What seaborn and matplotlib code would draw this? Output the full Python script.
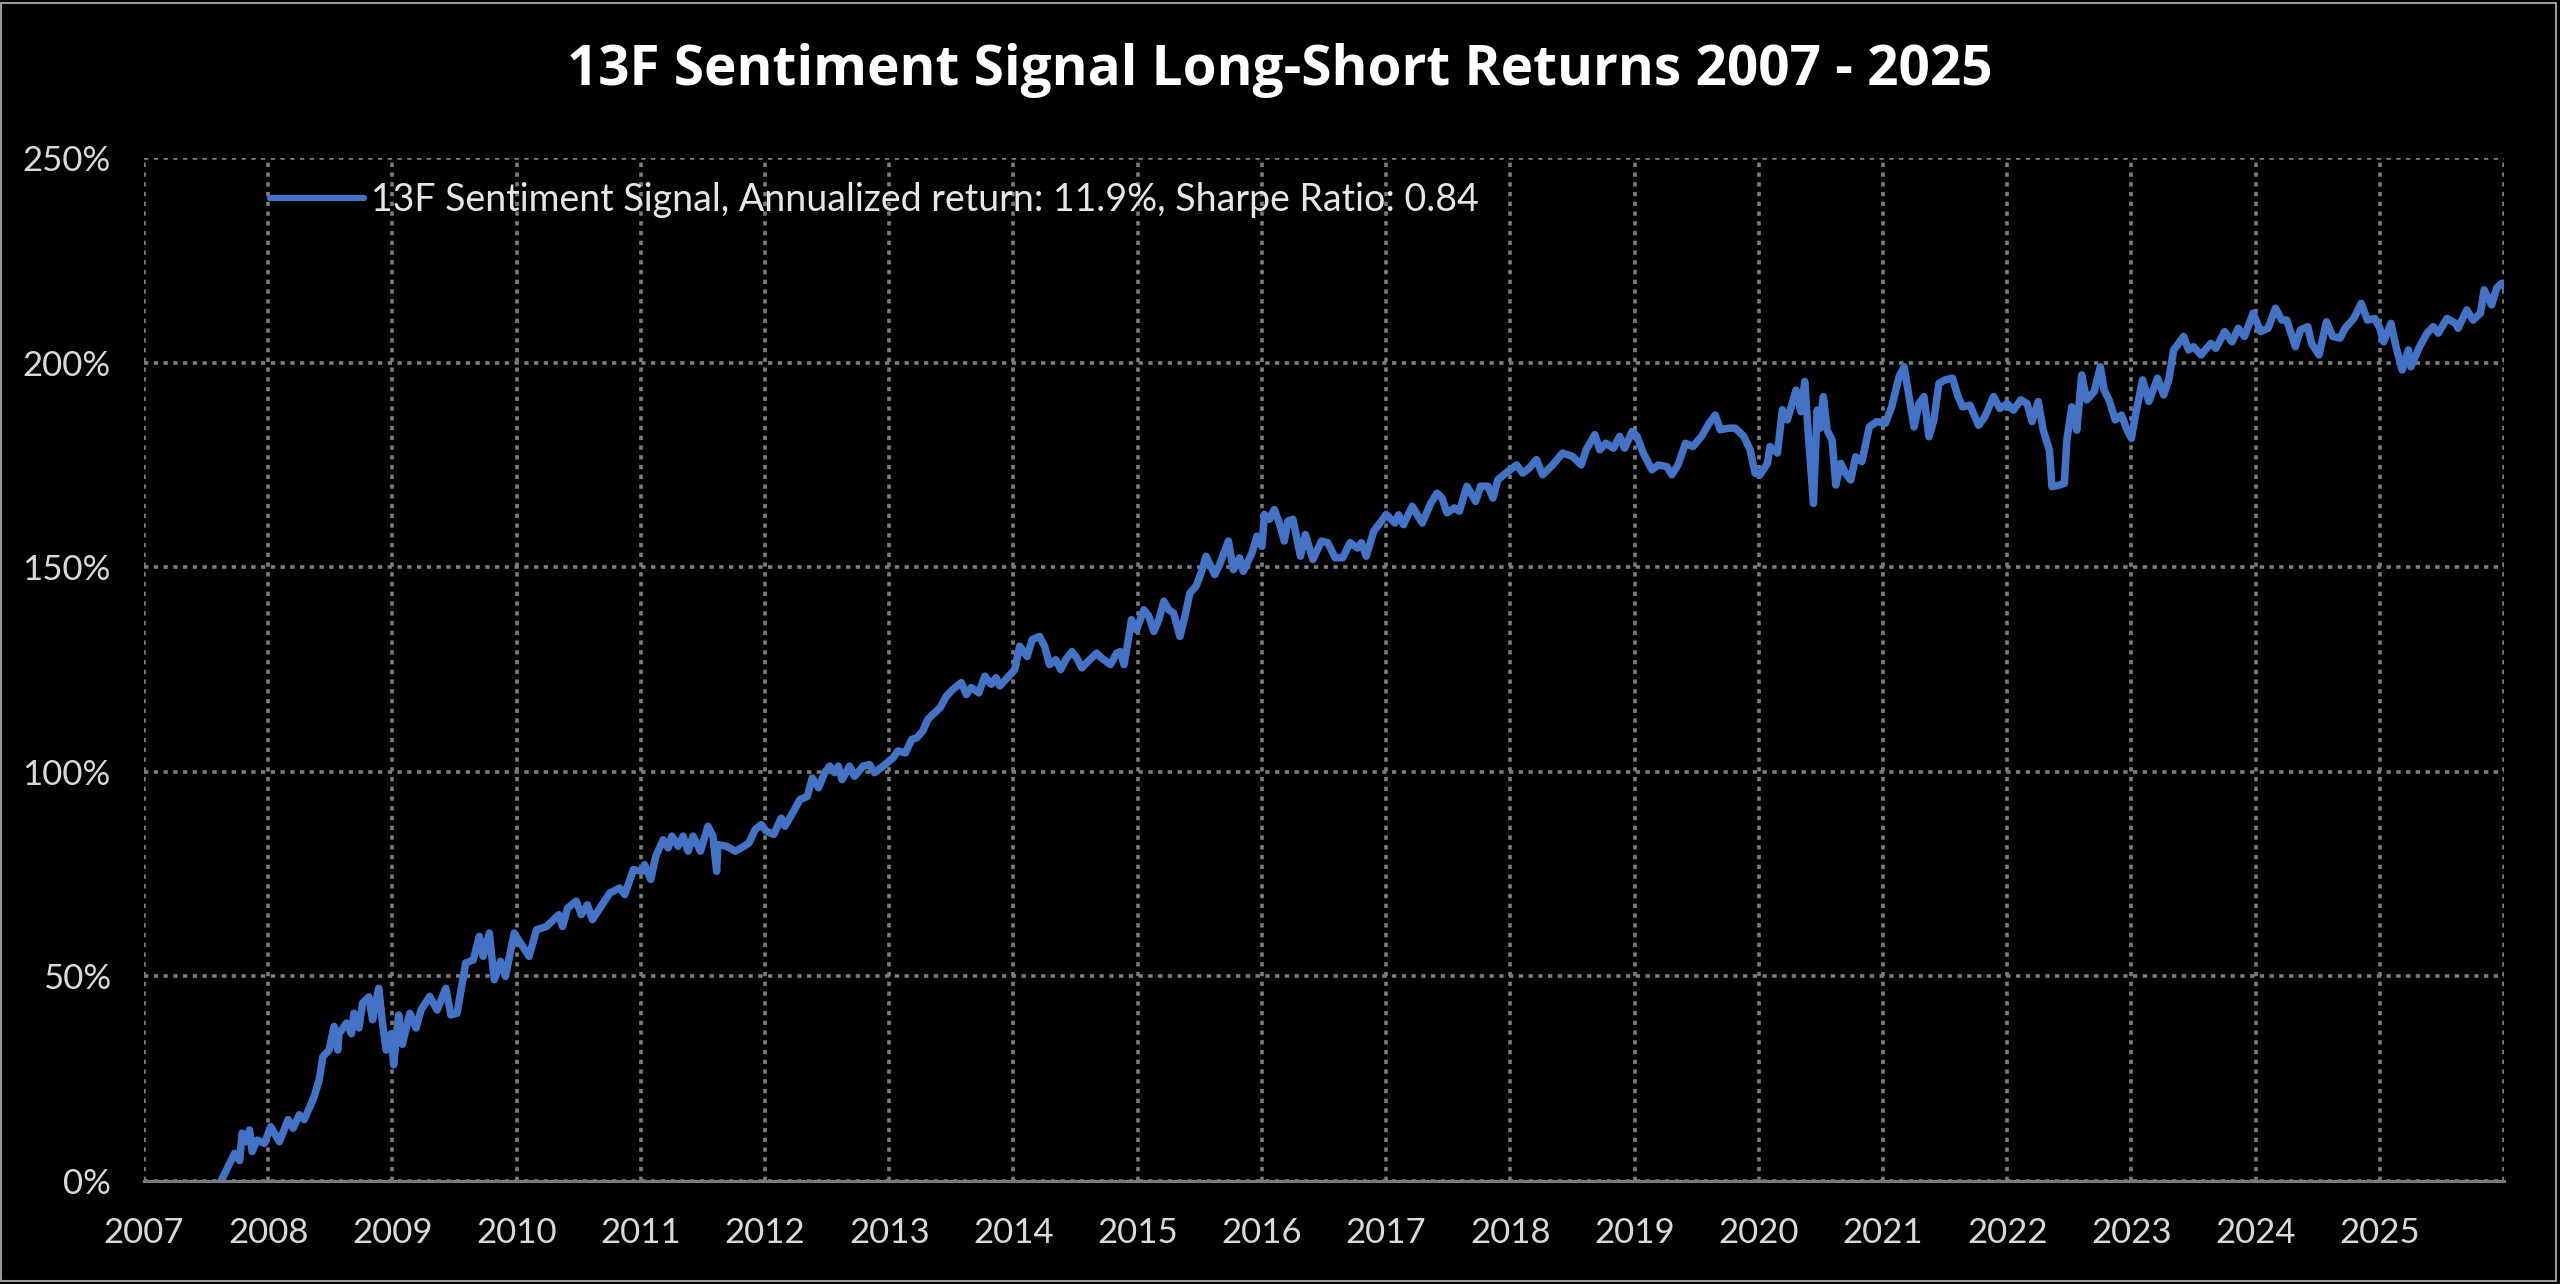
import matplotlib
matplotlib.use("Agg")
import matplotlib.pyplot as plt
from matplotlib.patches import Rectangle
from matplotlib.ticker import PercentFormatter
import pandas as pd
import seaborn as sns

# cumulative long-short return (%), decimal years
years = [
    2007.62, 2007.69, 2007.73, 2007.77, 2007.79, 2007.82, 2007.85, 2007.87, 2007.91, 2007.97,
    2008.02, 2008.09, 2008.16, 2008.20, 2008.25, 2008.29, 2008.33, 2008.37, 2008.41, 2008.44,
    2008.49, 2008.53, 2008.56, 2008.57, 2008.63, 2008.67, 2008.69, 2008.73, 2008.76, 2008.81,
    2008.84, 2008.87, 2008.89, 2008.92, 2008.95, 2008.99, 2009.01, 2009.05, 2009.08, 2009.14,
    2009.19, 2009.23, 2009.30, 2009.36, 2009.43, 2009.47, 2009.52, 2009.59, 2009.65, 2009.70,
    2009.73, 2009.78, 2009.82, 2009.87, 2009.91, 2009.98, 2010.03, 2010.10, 2010.16, 2010.24,
    2010.34, 2010.37, 2010.41, 2010.48, 2010.52, 2010.57, 2010.61, 2010.67, 2010.75, 2010.83,
    2010.87, 2010.94, 2011.01, 2011.03, 2011.08, 2011.12, 2011.18, 2011.22, 2011.25, 2011.30,
    2011.34, 2011.38, 2011.42, 2011.48, 2011.54, 2011.58, 2011.61, 2011.62, 2011.69, 2011.76,
    2011.83, 2011.87, 2011.92, 2011.97, 2012.01, 2012.07, 2012.13, 2012.16, 2012.23, 2012.28,
    2012.34, 2012.38, 2012.43, 2012.48, 2012.52, 2012.56, 2012.59, 2012.62, 2012.68, 2012.72,
    2012.79, 2012.84, 2012.88, 2012.95, 2013.03, 2013.07, 2013.13, 2013.18, 2013.22, 2013.27,
    2013.31, 2013.35, 2013.41, 2013.46, 2013.51, 2013.58, 2013.62, 2013.66, 2013.72, 2013.77,
    2013.82, 2013.86, 2013.89, 2013.96, 2014.01, 2014.05, 2014.11, 2014.15, 2014.21, 2014.25,
    2014.29, 2014.34, 2014.38, 2014.42, 2014.47, 2014.51, 2014.55, 2014.60, 2014.67, 2014.71,
    2014.78, 2014.83, 2014.86, 2014.89, 2014.92, 2014.95, 2014.99, 2015.05, 2015.09, 2015.13,
    2015.17, 2015.21, 2015.25, 2015.29, 2015.31, 2015.34, 2015.38, 2015.42, 2015.47, 2015.51,
    2015.55, 2015.62, 2015.66, 2015.73, 2015.77, 2015.82, 2015.85, 2015.92, 2015.96, 2016.00,
    2016.02, 2016.06, 2016.10, 2016.14, 2016.18, 2016.21, 2016.25, 2016.31, 2016.35, 2016.41,
    2016.48, 2016.53, 2016.59, 2016.65, 2016.71, 2016.77, 2016.80, 2016.84, 2016.90, 2016.95,
    2017.00, 2017.07, 2017.10, 2017.14, 2017.21, 2017.29, 2017.36, 2017.41, 2017.45, 2017.49,
    2017.55, 2017.59, 2017.65, 2017.72, 2017.76, 2017.82, 2017.86, 2017.90, 2017.98, 2018.05,
    2018.10, 2018.15, 2018.21, 2018.26, 2018.34, 2018.42, 2018.50, 2018.57, 2018.61, 2018.68,
    2018.72, 2018.77, 2018.83, 2018.88, 2018.92, 2018.98, 2019.02, 2019.07, 2019.14, 2019.19,
    2019.26, 2019.30, 2019.35, 2019.41, 2019.47, 2019.54, 2019.60, 2019.65, 2019.69, 2019.76,
    2019.81, 2019.88, 2019.93, 2019.97, 2020.01, 2020.07, 2020.09, 2020.15, 2020.19, 2020.23,
    2020.30, 2020.34, 2020.37, 2020.40, 2020.44, 2020.47, 2020.49, 2020.52, 2020.55, 2020.59,
    2020.62, 2020.66, 2020.70, 2020.74, 2020.78, 2020.83, 2020.89, 2020.95, 2021.02, 2021.07,
    2021.13, 2021.17, 2021.21, 2021.25, 2021.29, 2021.33, 2021.37, 2021.41, 2021.45, 2021.50,
    2021.56, 2021.60, 2021.64, 2021.70, 2021.77, 2021.82, 2021.89, 2021.94, 2022.00, 2022.05,
    2022.11, 2022.16, 2022.20, 2022.25, 2022.29, 2022.34, 2022.36, 2022.42, 2022.46, 2022.48,
    2022.52, 2022.56, 2022.60, 2022.64, 2022.70, 2022.75, 2022.78, 2022.82, 2022.87, 2022.92,
    2022.96, 2023.00, 2023.03, 2023.09, 2023.14, 2023.21, 2023.26, 2023.30, 2023.34, 2023.38,
    2023.42, 2023.46, 2023.50, 2023.56, 2023.64, 2023.68, 2023.75, 2023.81, 2023.86, 2023.91,
    2023.98, 2024.04, 2024.10, 2024.16, 2024.21, 2024.25, 2024.32, 2024.36, 2024.42, 2024.45,
    2024.51, 2024.57, 2024.62, 2024.68, 2024.72, 2024.79, 2024.85, 2024.90, 2024.96, 2025.00,
    2025.03, 2025.09, 2025.13, 2025.18, 2025.23, 2025.25, 2025.32, 2025.38, 2025.43, 2025.47,
    2025.54, 2025.61, 2025.63, 2025.70, 2025.75, 2025.81, 2025.84, 2025.90, 2025.94, 2025.98,
    2026.00,
]
returns = [
    0.0, 4.3, 6.8, 5.0, 11.7, 9.6, 12.5, 7.2, 10.0, 9.2,
    13.3, 9.6, 15.0, 12.9, 16.2, 15.0, 17.8, 20.6, 24.7, 30.4,
    32.0, 37.8, 32.0, 36.0, 38.6, 36.0, 41.0, 37.4, 43.5, 45.0,
    39.4, 44.3, 47.1, 38.6, 32.0, 36.0, 28.4, 40.6, 33.4, 41.0,
    37.4, 41.8, 45.1, 41.8, 47.1, 40.6, 41.0, 53.3, 54.0, 59.8,
    54.9, 60.6, 49.2, 53.7, 50.0, 60.6, 58.2, 54.9, 61.4, 62.2,
    65.1, 62.2, 66.7, 68.4, 65.1, 67.5, 63.9, 66.7, 70.4, 71.6,
    70.0, 76.1, 75.7, 77.3, 73.7, 79.4, 83.4, 81.4, 84.3, 81.8,
    84.3, 80.6, 84.3, 80.6, 86.7, 84.3, 75.7, 82.2, 81.8, 80.6,
    81.8, 82.6, 85.9, 87.1, 85.5, 84.7, 88.7, 86.7, 90.4, 93.2,
    94.0, 98.5, 96.1, 99.8, 101.4, 99.8, 101.4, 98.1, 101.4, 98.9,
    101.4, 101.8, 99.8, 101.4, 103.4, 105.1, 104.6, 107.9, 108.3, 110.0,
    112.8, 114.0, 115.7, 118.5, 120.1, 121.8, 118.9, 120.6, 119.3, 123.4,
    121.4, 123.0, 121.0, 123.3, 125.0, 130.7, 128.2, 132.3, 133.1, 130.7,
    126.2, 127.4, 125.0, 127.4, 129.4, 127.8, 125.4, 127.0, 129.0, 127.8,
    126.2, 129.0, 129.4, 126.2, 131.5, 137.2, 134.7, 139.6, 138.0, 134.3,
    137.2, 141.7, 139.6, 138.8, 136.4, 133.1, 138.0, 143.7, 145.4, 148.6,
    152.7, 148.2, 150.7, 156.4, 149.4, 152.3, 149.0, 153.5, 157.6, 155.1,
    162.9, 161.7, 164.1, 160.8, 156.4, 161.3, 161.7, 152.7, 158.0, 151.9,
    156.4, 156.0, 152.3, 152.3, 156.0, 154.7, 156.0, 152.7, 158.8, 160.8,
    162.9, 160.8, 162.8, 160.4, 164.9, 160.8, 165.7, 168.1, 166.9, 163.3,
    164.5, 163.7, 169.8, 166.1, 169.8, 169.8, 166.9, 171.4, 173.4, 175.0,
    173.0, 174.2, 176.3, 172.6, 175.0, 177.9, 177.1, 175.0, 178.7, 182.4,
    178.7, 180.3, 179.1, 182.0, 179.1, 183.2, 182.0, 177.9, 173.8, 175.0,
    174.6, 172.6, 175.0, 180.3, 179.5, 182.0, 185.2, 187.2, 183.6, 184.0,
    184.0, 182.0, 178.7, 173.0, 172.6, 175.4, 179.5, 177.9, 188.5, 186.0,
    193.3, 188.0, 195.4, 181.9, 165.6, 188.4, 183.9, 191.7, 183.5, 181.1,
    170.1, 175.4, 172.9, 171.3, 177.0, 175.8, 184.3, 185.6, 185.2, 189.2,
    196.6, 199.0, 191.7, 184.3, 190.0, 191.7, 181.9, 186.0, 194.9, 195.8,
    196.2, 192.1, 189.2, 189.6, 184.7, 186.8, 191.7, 188.8, 190.0, 188.4,
    190.9, 190.0, 185.6, 190.5, 183.5, 178.6, 169.7, 170.1, 170.5, 181.1,
    189.2, 183.5, 197.0, 190.9, 192.9, 199.0, 193.3, 190.9, 186.0, 187.2,
    183.9, 181.5, 186.8, 195.8, 190.5, 196.2, 192.1, 195.8, 203.1, 204.7,
    206.4, 203.1, 203.9, 201.9, 204.7, 203.5, 207.6, 205.1, 208.4, 206.4,
    212.1, 207.6, 208.4, 213.3, 210.4, 210.4, 203.9, 208.0, 208.8, 204.7,
    201.9, 210.0, 206.4, 206.0, 208.4, 210.8, 214.5, 210.4, 210.8, 208.4,
    205.1, 209.6, 203.9, 198.2, 203.1, 199.0, 203.9, 207.2, 208.8, 207.2,
    210.8, 209.6, 208.4, 212.9, 210.4, 212.1, 217.8, 214.1, 218.2, 219.4,
    218.6,
]
year_ticks = list(range(2007, 2027))
year_labels = [str(y) for y in range(2007, 2026)] + [""]
pct_ticks = [0, 50, 100, 150, 200, 250]

series_label = "13F Sentiment Signal, Annualized return: 11.9%, Sharpe Ratio: 0.84"
title = "13F Sentiment Signal Long-Short Returns 2007 - 2025"

df = pd.DataFrame({"year": years, "ret": returns})

sns.set_style("dark", {"axes.facecolor": "black", "figure.facecolor": "black"})
plt.rcParams["font.family"] = ["Lato", "DejaVu Sans"]

fig = plt.figure(figsize=(25.6, 12.84), dpi=100)
ax = fig.add_axes([0.05625, 0.0802, 0.9219, 0.7967])

sns.lineplot(data=df, x="year", y="ret", ax=ax, color="#4472C4", linewidth=5.4,
             label=series_label, solid_joinstyle="round", solid_capstyle="round")

ax.set_xlim(2007, 2026)
ax.set_ylim(0, 250)
ax.set_xticks(year_ticks)
ax.set_xticklabels(year_labels)
ax.set_yticks(pct_ticks)
ax.yaxis.set_major_formatter(PercentFormatter(xmax=100, decimals=0))
ax.set_xlabel("")
ax.set_ylabel("")

ax.grid(True, color="#7c7c7c", linewidth=2.6, linestyle=(0, (1.2, 1.5)))
ax.set_axisbelow(True)
for side in ["top", "right", "left"]:
    ax.spines[side].set_visible(False)
ax.spines["bottom"].set_color("#7a7a7a")
ax.spines["bottom"].set_linewidth(2.2)

ax.tick_params(axis="both", length=0, labelsize=25, labelcolor="#d9d9d9")
ax.tick_params(axis="y", pad=24)
ax.tick_params(axis="x", pad=26)

leg = ax.legend(loc="center left", bbox_to_anchor=(0.0534, 0.959), frameon=False,
                fontsize=27, handlelength=2.5, handletextpad=0.2,
                borderpad=0, borderaxespad=0)
for t in leg.get_texts():
    t.set_color("#e6e6e6")
for h in leg.get_lines():
    h.set_linewidth(4.5)

fig.text(0.5, 1 - 70 / 1284, title, ha="center", va="center",
         fontsize=39.5, fontweight="bold", color="white", family=["Open Sans", "DejaVu Sans"])

fig.patches.append(Rectangle((0.0005, 0.002), 0.998, 0.996, transform=fig.transFigure,
                             fill=False, edgecolor="#9a9a9a", linewidth=1.5))

fig.savefig("out.png", dpi=100, facecolor="black")
